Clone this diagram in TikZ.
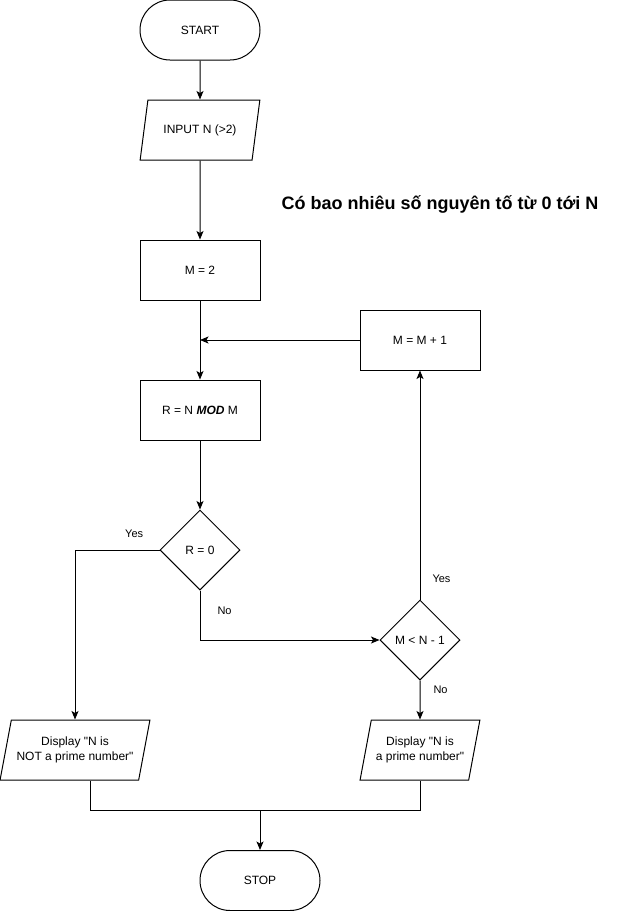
\documentclass[tikz,border=0pt]{standalone}
\usepackage{fontspec}
\setmainfont{Liberation Sans}
\usepackage{tikz}
\usetikzlibrary{arrows.meta, positioning, shapes.geometric}

\begin{document}
\begin{tikzpicture}[
    x=1pt, y=-1pt,
    node distance=79pt,
    line width=1pt,
    term/.style={draw, fill=white, rounded corners=30pt, minimum width=120pt, minimum height=60pt,
                 font=\fontsize{12}{15}\selectfont},
    proc/.style={draw, fill=white, minimum width=120pt, minimum height=60pt,
                 font=\fontsize{12}{15}\selectfont},
    io/.style={draw, fill=white, trapezium, trapezium left angle=71.57, trapezium right angle=108.43,
               trapezium stretches=true, minimum width=120pt, minimum height=60pt,
               align=center, font=\fontsize{12}{15}\selectfont},
    dec/.style={draw, fill=white, diamond, aspect=1, minimum width=80pt, minimum height=80pt,
                inner sep=0pt, font=\fontsize{12}{15}\selectfont},
    lbl/.style={inner sep=1pt, font=\fontsize{11}{13}\selectfont},
    arr/.style={-{Stealth[length=8.5pt, width=7pt, inset=2pt]}},
  ]
  \useasboundingbox (0,0) rectangle (621,911);

  % Start and input
  \node[term] (start) at (200,30) {START};
  \node[io, below=39pt of start] (input) {INPUT N (>2)};

  % Title
  \node[font=\bfseries\fontsize{18}{22}\selectfont] (title) at (440,204) {Có bao nhiêu số nguyên tố từ 0 tới N};

  % Loop
  \node[proc, below=of input] (mtwo) {M = 2};
  \node[proc, below=of mtwo] (rmod) {R = N \textbf{\textit{MOD}} M};
  \node[dec, below=69pt of rmod] (rzero) {R = 0};
  \node[dec] (mless) at (420,640) {M < N - 1};
  \node[proc, above=229pt of mless] (minc) {M = M + 1};

  % Outputs
  \node[io, minimum width=150pt] (dno) at (75,750) {Display \textquotedbl N is\\NOT a prime number\textquotedbl};
  \node[io, below=39pt of mless] (dyes) {Display \textquotedbl N is\\a prime number\textquotedbl};

  % Stop
  \coordinate (join) at (260,810);
  \node[term, below=40pt of join] (stop) {STOP};

  % Arrows
  \draw[arr] (start) -- (input);
  \draw[arr] (input) -- (mtwo);
  \draw[arr] (mtwo) -- (rmod);
  \draw[arr] (minc) -- (minc -| rmod);
  \draw[arr] (rmod) -- (rzero);
  \draw[arr] (rzero) -| node[lbl, pos=0.15, above=11pt] {Yes} (dno);
  \draw[arr] (rzero) |- node[lbl, pos=0.2, right=16pt] {No} (mless);
  \draw[arr] (mless) -- node[lbl, pos=0.09, right=11pt] {Yes} (minc);
  \draw[arr] (mless) -- node[lbl, pos=0.25, right=12pt] {No} (dyes);
  \draw ([xshift=15pt]dno.south) |- (join) -| (dyes);
  \draw[arr] (join) -- (stop);

\end{tikzpicture}
\end{document}
